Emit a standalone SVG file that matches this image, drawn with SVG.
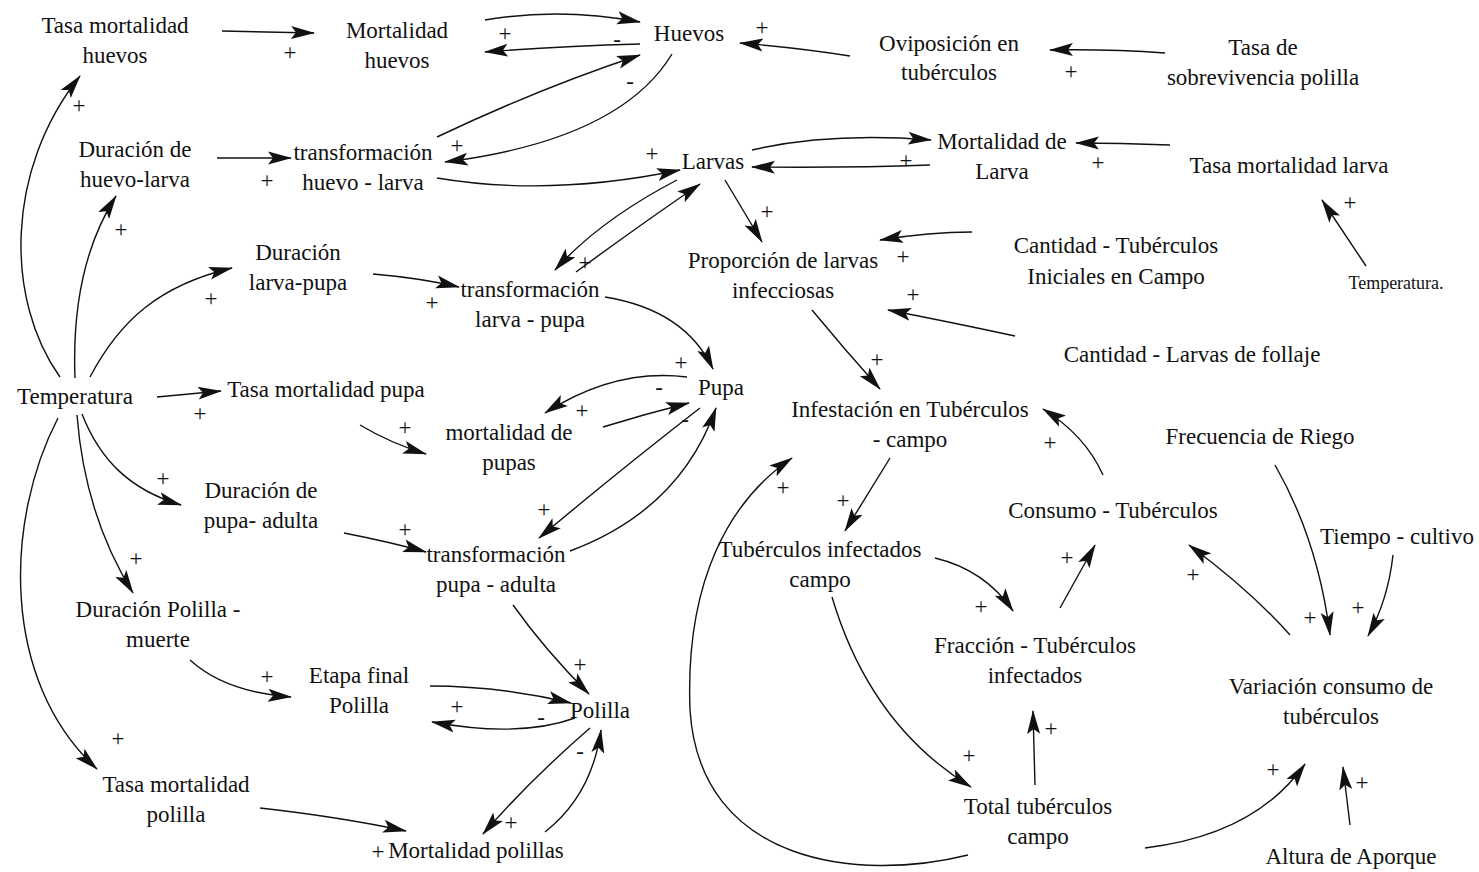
<svg xmlns="http://www.w3.org/2000/svg" width="1479" height="872" viewBox="0 0 1479 872">
<style>
  .n { font-family: "Liberation Serif", "Times New Roman", serif; font-size: 23px; fill: #111; text-anchor: middle; }
  .s { font-size: 18px; }
  .p { font-family: "Liberation Serif", "Times New Roman", serif; font-size: 23px; fill: #111; text-anchor: middle; }
  .c path { fill: none; stroke: #111; stroke-width: 1.4; marker-end: url(#ah); }
</style>
<defs>
  <marker id="ah" markerUnits="userSpaceOnUse" markerWidth="26" markerHeight="14" refX="23" refY="7" orient="auto">
    <path d="M0,0.5 L24,7 L0,13.5 L5,7 z" fill="#111"/>
  </marker>
</defs>
<rect width="1479" height="872" fill="#fff"/>

<!-- nodes -->
<g id="tasa-mort-huevos"><text class="n" x="115" y="33"><tspan x="115">Tasa mortalidad</tspan><tspan x="115" dy="30">huevos</tspan></text></g>
<g id="mortalidad-huevos"><text class="n" x="397" y="38"><tspan x="397">Mortalidad</tspan><tspan x="397" dy="30">huevos</tspan></text></g>
<g id="huevos"><text class="n" x="689" y="41">Huevos</text></g>
<g id="oviposicion"><text class="n" x="949" y="51"><tspan x="949">Oviposición en</tspan><tspan x="949" dy="29">tubérculos</tspan></text></g>
<g id="tasa-sobrevivencia"><text class="n" x="1263" y="55"><tspan x="1263">Tasa de</tspan><tspan x="1263" dy="30">sobrevivencia polilla</tspan></text></g>
<g id="duracion-huevo-larva"><text class="n" x="135" y="157"><tspan x="135">Duración de</tspan><tspan x="135" dy="30">huevo-larva</tspan></text></g>
<g id="transf-huevo-larva"><text class="n" x="363" y="160"><tspan x="363">transformación</tspan><tspan x="363" dy="30">huevo - larva</tspan></text></g>
<g id="larvas"><text class="n" x="713" y="169">Larvas</text></g>
<g id="mortalidad-larva"><text class="n" x="1002" y="149"><tspan x="1002">Mortalidad de</tspan><tspan x="1002" dy="30">Larva</tspan></text></g>
<g id="tasa-mort-larva"><text class="n" x="1289" y="173">Tasa mortalidad larva</text></g>
<g id="duracion-larva-pupa"><text class="n" x="298" y="260"><tspan x="298">Duración</tspan><tspan x="298" dy="30">larva-pupa</tspan></text></g>
<g id="transf-larva-pupa"><text class="n" x="530" y="297"><tspan x="530">transformación</tspan><tspan x="530" dy="30">larva - pupa</tspan></text></g>
<g id="proporcion-larvas"><text class="n" x="783" y="268"><tspan x="783">Proporción de larvas</tspan><tspan x="783" dy="30">infecciosas</tspan></text></g>
<g id="cantidad-tuberculos"><text class="n" x="1116" y="253"><tspan x="1116">Cantidad - Tubérculos</tspan><tspan x="1116" dy="31">Iniciales en Campo</tspan></text></g>
<g id="temperatura-2"><text class="n s" x="1396" y="289">Temperatura.</text></g>
<g id="cantidad-larvas-follaje"><text class="n" x="1192" y="362">Cantidad - Larvas de follaje</text></g>
<g id="temperatura"><text class="n" x="75" y="404">Temperatura</text></g>
<g id="tasa-mort-pupa"><text class="n" x="326" y="397">Tasa mortalidad pupa</text></g>
<g id="pupa"><text class="n" x="721" y="395">Pupa</text></g>
<g id="mortalidad-pupas"><text class="n" x="509" y="440"><tspan x="509">mortalidad de</tspan><tspan x="509" dy="30">pupas</tspan></text></g>
<g id="infestacion"><text class="n" x="910" y="417"><tspan x="910">Infestación en Tubérculos</tspan><tspan x="910" dy="30">- campo</tspan></text></g>
<g id="frecuencia-riego"><text class="n" x="1260" y="444">Frecuencia de Riego</text></g>
<g id="duracion-pupa-adulta"><text class="n" x="261" y="498"><tspan x="261">Duración de</tspan><tspan x="261" dy="30">pupa- adulta</tspan></text></g>
<g id="consumo-tuberculos"><text class="n" x="1113" y="518">Consumo - Tubérculos</text></g>
<g id="transf-pupa-adulta"><text class="n" x="496" y="562"><tspan x="496">transformación</tspan><tspan x="496" dy="30">pupa - adulta</tspan></text></g>
<g id="tuberculos-infectados"><text class="n" x="820" y="557"><tspan x="820">Tubérculos infectados</tspan><tspan x="820" dy="30">campo</tspan></text></g>
<g id="tiempo-cultivo"><text class="n" x="1397" y="544">Tiempo - cultivo</text></g>
<g id="duracion-polilla-muerte"><text class="n" x="158" y="617"><tspan x="158">Duración Polilla -</tspan><tspan x="158" dy="30">muerte</tspan></text></g>
<g id="fraccion-tuberculos"><text class="n" x="1035" y="653"><tspan x="1035">Fracción - Tubérculos</tspan><tspan x="1035" dy="30">infectados</tspan></text></g>
<g id="etapa-final"><text class="n" x="359" y="683"><tspan x="359">Etapa final</tspan><tspan x="359" dy="30">Polilla</tspan></text></g>
<g id="polilla"><text class="n" x="600" y="718">Polilla</text></g>
<g id="variacion-consumo"><text class="n" x="1331" y="694"><tspan x="1331">Variación consumo de</tspan><tspan x="1331" dy="30">tubérculos</tspan></text></g>
<g id="tasa-mort-polilla"><text class="n" x="176" y="792"><tspan x="176">Tasa mortalidad</tspan><tspan x="176" dy="30">polilla</tspan></text></g>
<g id="total-tuberculos"><text class="n" x="1038" y="814"><tspan x="1038">Total tubérculos</tspan><tspan x="1038" dy="30">campo</tspan></text></g>
<g id="mortalidad-polillas"><text class="n" x="476" y="858">Mortalidad polillas</text></g>
<g id="altura-aporque"><text class="n" x="1351" y="864">Altura de Aporque</text></g>

<!-- connectors -->
<g id="connectors" class="c">
  <path d="M222,31 L314,33"/>
  <path d="M485,20 Q560,7 640,22"/>
  <path d="M640,44 Q560,46 485,52"/>
  <path d="M672,54 Q620,140 445,162"/>
  <path d="M437,137 Q540,88 640,55"/>
  <path d="M437,178 Q550,197 680,170"/>
  <path d="M752,150 Q830,132 931,140"/>
  <path d="M930,165 Q850,168 752,167"/>
  <path d="M1170,145 Q1120,143 1076,143"/>
  <path d="M1366,266 L1322,200"/>
  <path d="M850,56 Q800,48 740,43"/>
  <path d="M1165,53 Q1110,49 1050,50"/>
  <path d="M725,180 L762,242"/>
  <path d="M677,180 Q600,220 555,270"/>
  <path d="M576,272 Q640,225 700,184"/>
  <path d="M972,232 Q930,232 880,240"/>
  <path d="M1015,336 Q950,322 888,310"/>
  <path d="M812,310 Q845,350 880,389"/>
  <path d="M60,377 C5,300 5,170 80,76"/>
  <path d="M75,378 C72,300 88,240 116,196"/>
  <path d="M90,377 C120,320 160,285 232,268"/>
  <path d="M157,397 L221,391"/>
  <path d="M82,414 C100,460 130,490 181,505"/>
  <path d="M77,415 C82,480 100,540 133,593"/>
  <path d="M58,418 C5,520 0,680 97,769"/>
  <path d="M217,158 L291,158"/>
  <path d="M373,274 Q420,278 459,287"/>
  <path d="M605,297 Q685,310 713,369"/>
  <path d="M687,377 Q615,368 545,413"/>
  <path d="M603,427 Q645,414 689,403"/>
  <path d="M360,425 Q390,443 426,454"/>
  <path d="M700,408 Q620,470 539,538"/>
  <path d="M570,551 Q680,510 716,408"/>
  <path d="M344,533 Q390,542 426,552"/>
  <path d="M513,605 Q545,650 589,694"/>
  <path d="M190,660 Q225,692 291,697"/>
  <path d="M430,686 Q500,686 571,703"/>
  <path d="M575,718 Q520,738 432,722"/>
  <path d="M590,728 Q530,780 483,834"/>
  <path d="M545,832 Q592,795 601,730"/>
  <path d="M260,808 Q340,817 406,831"/>
  <path d="M890,458 L845,531"/>
  <path d="M968,855 C860,882 700,865 690,710 C685,580 730,500 792,458"/>
  <path d="M832,597 Q870,725 971,787"/>
  <path d="M935,558 Q985,570 1013,611"/>
  <path d="M1060,608 L1095,545"/>
  <path d="M1103,475 Q1085,435 1043,409"/>
  <path d="M1290,635 Q1250,590 1189,545"/>
  <path d="M1275,465 Q1318,540 1330,635"/>
  <path d="M1393,555 Q1388,600 1368,636"/>
  <path d="M1145,848 Q1255,835 1305,764"/>
  <path d="M1350,825 L1343,767"/>
  <path d="M1035,785 L1033,711"/>
</g>

<!-- polarity marks -->
<g id="polarities">
  <text class="p" x="290" y="60">+</text>
  <text class="p" x="505" y="41">+</text>
  <text class="p" x="617" y="47">-</text>
  <text class="p" x="630" y="89">-</text>
  <text class="p" x="762" y="35">+</text>
  <text class="p" x="1071" y="79">+</text>
  <text class="p" x="457" y="153">+</text>
  <text class="p" x="267" y="188">+</text>
  <text class="p" x="652" y="161">+</text>
  <text class="p" x="906" y="168">+</text>
  <text class="p" x="1098" y="170">+</text>
  <text class="p" x="1350" y="210">+</text>
  <text class="p" x="79" y="113">+</text>
  <text class="p" x="121" y="237">+</text>
  <text class="p" x="211" y="306">+</text>
  <text class="p" x="767" y="219">+</text>
  <text class="p" x="585" y="270">+</text>
  <text class="p" x="903" y="264">+</text>
  <text class="p" x="913" y="302">+</text>
  <text class="p" x="432" y="310">+</text>
  <text class="p" x="877" y="367">+</text>
  <text class="p" x="681" y="370">+</text>
  <text class="p" x="659" y="395">-</text>
  <text class="p" x="582" y="418">+</text>
  <text class="p" x="685" y="427">-</text>
  <text class="p" x="200" y="421">+</text>
  <text class="p" x="405" y="435">+</text>
  <text class="p" x="163" y="486">+</text>
  <text class="p" x="544" y="517">+</text>
  <text class="p" x="405" y="537">+</text>
  <text class="p" x="136" y="566">+</text>
  <text class="p" x="580" y="672">+</text>
  <text class="p" x="267" y="684">+</text>
  <text class="p" x="457" y="714">+</text>
  <text class="p" x="541" y="725">-</text>
  <text class="p" x="580" y="759">-</text>
  <text class="p" x="118" y="746">+</text>
  <text class="p" x="511" y="830">+</text>
  <text class="p" x="378" y="859">+</text>
  <text class="p" x="783" y="495">+</text>
  <text class="p" x="843" y="508">+</text>
  <text class="p" x="1050" y="450">+</text>
  <text class="p" x="981" y="614">+</text>
  <text class="p" x="1067" y="565">+</text>
  <text class="p" x="1193" y="582">+</text>
  <text class="p" x="1310" y="625">+</text>
  <text class="p" x="1358" y="615">+</text>
  <text class="p" x="969" y="763">+</text>
  <text class="p" x="1051" y="736">+</text>
  <text class="p" x="1273" y="777">+</text>
  <text class="p" x="1362" y="790">+</text>
</g>
</svg>
